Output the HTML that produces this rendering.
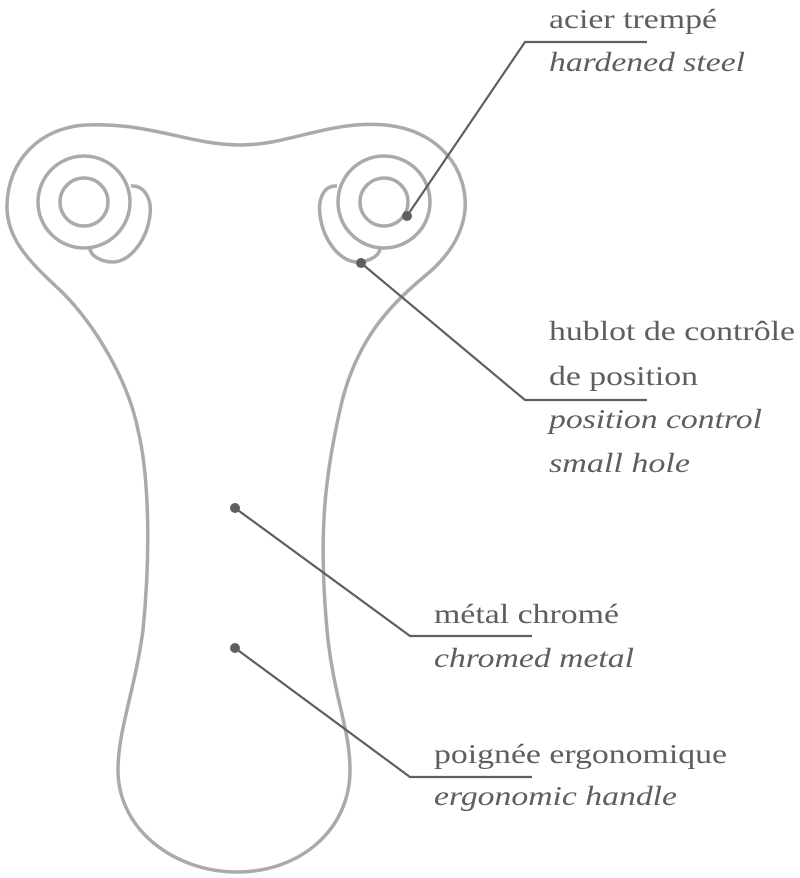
<!DOCTYPE html>
<html><head><meta charset="utf-8"><style>
html,body{margin:0;padding:0;background:#fff;}
svg{display:block;}
text{font-family:"Liberation Serif","Times New Roman",Times,serif;font-size:27px;fill:#5e5e5e;}
.i{font-style:italic;}
</style></head><body>
<svg width="800" height="878" viewBox="0 0 800 878" xmlns="http://www.w3.org/2000/svg">
<g fill="none" stroke="#aaaaaa" stroke-width="3.5">
<path d="M85,125 C150,122 190,145 240,145 C290,145 330,120 385,125 C440,130 468,170 465,210 C462,240 442,262 425,276 C392,303 355,340 340,410 C324,480 318,540 328,640 C335,700 350,730 350,770 C350,830 300,872 237,872 C175,872 118,830 118,770 C118,730 135,690 143,630 C150,560 150,480 138,430 C128,380 95,325 62,292 C32,264 6,240 7,205 C8,160 40,128 85,125 Z"/>
<circle cx="84" cy="202" r="46"/>
<circle cx="84" cy="202" r="24"/>
<circle cx="384" cy="202" r="46"/>
<circle cx="384" cy="202" r="24"/>
<path d="M131,186 C145,185 152,200 150,215 C147,240 130,262 113,262 C100,262 90,255 90,248"/>
<path d="M337,186 C323,185 318,200 320,215 C323,240 340,262 357,262 C370,262 380,255 380,248"/>
</g>
<g stroke="#5f5f5f" stroke-width="2.2" fill="none">
<polyline points="407,216 525,42 647,42"/>
<polyline points="361,263 525,400 647,400"/>
<polyline points="235,508 410,636 532,636"/>
<polyline points="235,648 410,777 532,777"/>
</g>
<g fill="#5f5f5f">
<circle cx="407" cy="216" r="5"/>
<circle cx="361" cy="263" r="5"/>
<circle cx="235" cy="508" r="5"/>
<circle cx="235" cy="648" r="5"/>
</g>
<text x="549" y="28" textLength="168" lengthAdjust="spacingAndGlyphs">acier trempé</text>
<text class="i" x="549" y="71" textLength="196" lengthAdjust="spacingAndGlyphs">hardened steel</text>
<text x="549" y="340" textLength="246" lengthAdjust="spacingAndGlyphs">hublot de contrôle</text>
<text x="549" y="385" textLength="149" lengthAdjust="spacingAndGlyphs">de position</text>
<text class="i" x="549" y="428" textLength="213" lengthAdjust="spacingAndGlyphs">position control</text>
<text class="i" x="549" y="472" textLength="141" lengthAdjust="spacingAndGlyphs">small hole</text>
<text x="434" y="623" textLength="185" lengthAdjust="spacingAndGlyphs">métal chromé</text>
<text class="i" x="434" y="667" textLength="200" lengthAdjust="spacingAndGlyphs">chromed metal</text>
<text x="434" y="763" textLength="293" lengthAdjust="spacingAndGlyphs">poignée ergonomique</text>
<text class="i" x="434" y="805" textLength="243" lengthAdjust="spacingAndGlyphs">ergonomic handle</text>
</svg>
</body></html>
